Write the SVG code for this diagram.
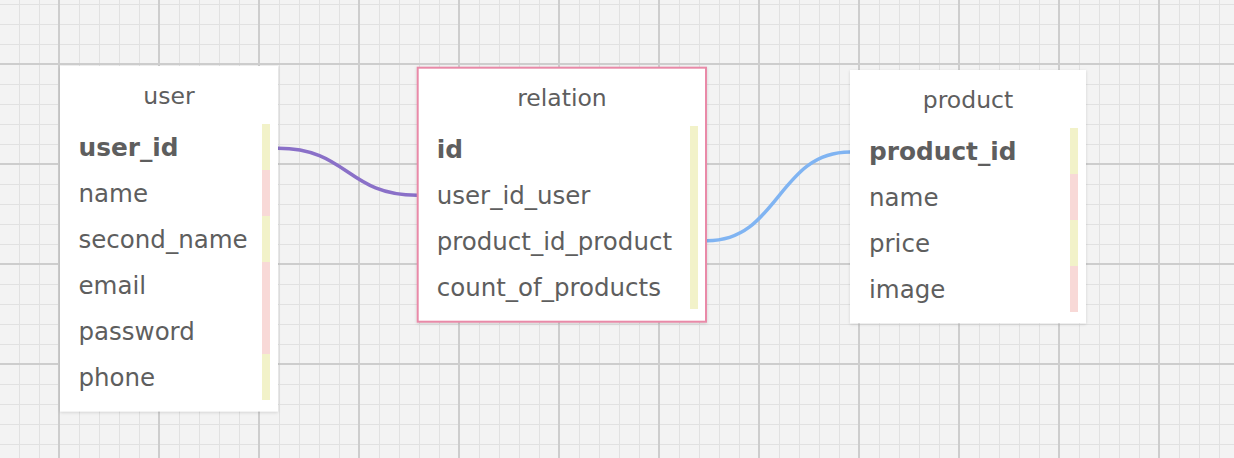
<svg xmlns="http://www.w3.org/2000/svg" width="1234" height="458" viewBox="0 0 1234 458">
<style>
.box{fill:#ffffff}
.title{font-family:"DejaVu Sans",Verdana,sans-serif;font-size:23.5px;fill:#5e5e5e;text-anchor:middle}
.f{font-family:"DejaVu Sans",Verdana,sans-serif;font-size:24.5px;fill:#5e5e5e}
.pk{font-weight:bold;font-size:24.8px}
.y{fill:#f2f2c9}
.p{fill:#f8d9d7}
.conn{fill:none;stroke-width:3.5}
</style>
<defs>
<pattern id="minor" x="19" y="4" width="20" height="20" patternUnits="userSpaceOnUse"><path d="M0.5 0V20M0 0.5H20" stroke="#e1e1e1" stroke-width="1"/></pattern>
<pattern id="major" x="58" y="63" width="100" height="100" patternUnits="userSpaceOnUse"><path d="M1 0V100M0 1H100" stroke="#cdcdcd" stroke-width="2"/></pattern>
<filter id="sh" x="-10%" y="-10%" width="120%" height="120%"><feDropShadow dx="0" dy="1" stdDeviation="1.5" flood-color="#000" flood-opacity="0.15"/></filter>
</defs>
<rect width="1234" height="458" fill="#f3f3f3"/>
<rect width="1234" height="458" fill="url(#minor)"/>
<rect width="1234" height="458" fill="url(#major)"/>
<g id="connectors">
<path class="conn" stroke="#8a70c8" d="M278 148.3C348 148.3 347 195.3 417 195.3"/>
<path class="conn" stroke="#80b4f2" d="M707 240.7C779 240.7 778 152 850 152"/>
</g>
<g id="user">
<rect class="box" x="60" y="66" width="218" height="345.5" filter="url(#sh)"/>
<text class="title" x="169" y="104">user</text>
<rect class="y" x="262" y="124" width="8" height="46"/>
<rect class="p" x="262" y="170" width="8" height="46"/>
<rect class="y" x="262" y="216" width="8" height="46"/>
<rect class="p" x="262" y="262" width="8" height="92"/>
<rect class="y" x="262" y="354" width="8" height="46"/>
<text class="f pk" x="78.5" y="155.5">user_id</text>
<text class="f" x="78.5" y="201.5">name</text>
<text class="f" x="78.5" y="247.5">second_name</text>
<text class="f" x="78.5" y="293.5">email</text>
<text class="f" x="78.5" y="339.5">password</text>
<text class="f" x="78.5" y="385.5">phone</text>
</g>
<g id="relation">
<rect class="box" x="417.7" y="67.7" width="288.3" height="254" stroke="#e98aa8" stroke-width="2" filter="url(#sh)"/>
<text class="title" x="562" y="105.5">relation</text>
<rect class="y" x="690" y="126" width="8" height="183"/>
<text class="f pk" x="436.7" y="157.5">id</text>
<text class="f" x="436.7" y="203.5">user_id_user</text>
<text class="f" x="436.7" y="249.5">product_id_product</text>
<text class="f" x="436.7" y="295.5">count_of_products</text>
</g>
<g id="product">
<rect class="box" x="850" y="70" width="236" height="253.3" filter="url(#sh)"/>
<text class="title" x="968" y="108.3">product</text>
<rect class="y" x="1070" y="128" width="8" height="46"/>
<rect class="p" x="1070" y="174" width="8" height="46"/>
<rect class="y" x="1070" y="220" width="8" height="46"/>
<rect class="p" x="1070" y="266" width="8" height="46"/>
<text class="f pk" x="869" y="160">product_id</text>
<text class="f" x="869" y="206">name</text>
<text class="f" x="869" y="252">price</text>
<text class="f" x="869" y="298">image</text>
</g>
</svg>
